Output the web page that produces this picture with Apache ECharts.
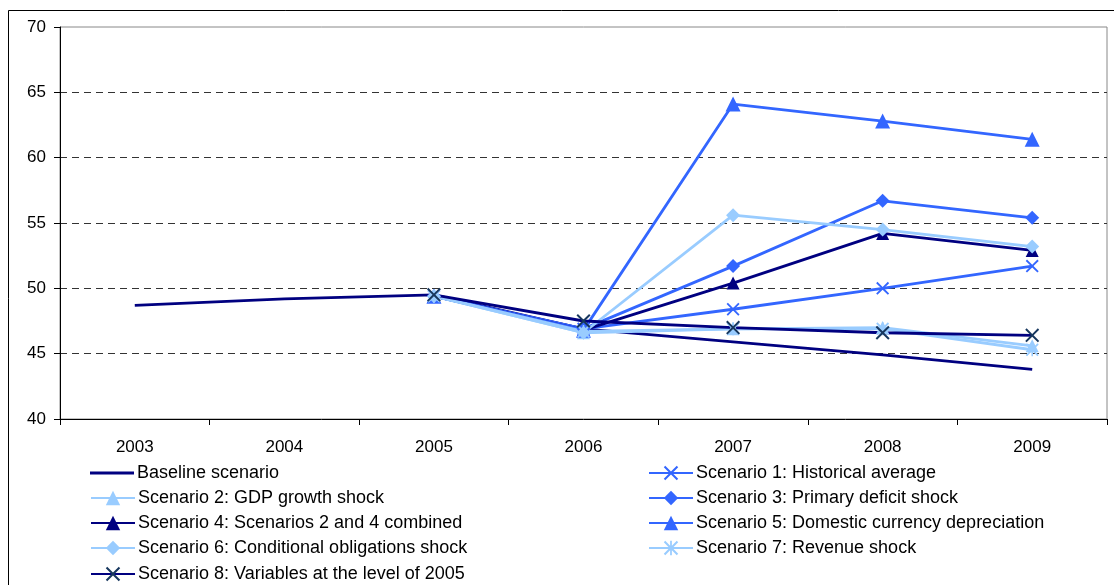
<!DOCTYPE html>
<html>
<head>
<meta charset="utf-8">
<script src="https://cdn.jsdelivr.net/npm/echarts@6/dist/echarts.min.js"></script>
<style>
  html, body { margin: 0; padding: 0; background: #fff; }
  #chart { width: 1114px; height: 585px; }
</style>
</head>
<body>
<div id="chart"></div>
<script>
// Years on the horizontal axis
const years = ['2003', '2004', '2005', '2006', '2007', '2008', '2009'];

// Debt paths (percent), one array per scenario
const baseline   = [48.7, 49.2, 49.5, 46.9, 45.9, 44.9, 43.8];
const scenario1  = [null, null, 49.4, 46.9, 48.4, 50.0, 51.7];
const scenario2  = [null, null, 49.4, 46.6, 46.9, 47.0, 45.6];
const scenario3  = [null, null, 49.4, 46.9, 51.7, 56.7, 55.4];
const scenario4  = [null, null, 49.4, 46.8, 50.4, 54.2, 52.9];
const scenario5  = [null, null, 49.4, 46.8, 64.1, 62.8, 61.4];
const scenario6  = [null, null, 49.4, 46.6, 55.6, 54.5, 53.2];
const scenario7  = [null, null, 49.4, 46.7, 46.9, 46.9, 45.3];
const scenario8  = [null, null, 49.5, 47.5, 47.0, 46.6, 46.4];

const names = [
  'Baseline scenario',
  'Scenario 1: Historical average',
  'Scenario 2: GDP growth shock',
  'Scenario 3: Primary deficit shock',
  'Scenario 4: Scenarios 2 and 4 combined',
  'Scenario 5: Domestic currency depreciation',
  'Scenario 6: Conditional obligations shock',
  'Scenario 7: Revenue shock',
  'Scenario 8: Variables at the level of 2005'
];

const NAVY = '#000080', MID = '#3366FF', LIGHT = '#99CCFF';
const CROSS = 'path://M0,1 L1,0 L5,4 L9,0 L10,1 L6,5 L10,9 L9,10 L5,6 L1,10 L0,9 L4,5 Z';
const STAR = 'path://M0,1 L1,0 L4.4,3.4 L4.4,0 L5.6,0 L5.6,3.4 L9,0 L10,1 L6.6,4.4 L6.6,5.6 L10,9 L9,10 L5.6,6.6 L5.6,10 L4.4,10 L4.4,6.6 L1,10 L0,9 L3.4,5.6 L3.4,4.4 Z';

function line(name, data, color, symbol, size, markColor) {
  return {
    name: name,
    type: 'line',
    data: data,
    symbol: symbol || 'none',
    symbolSize: size || 0,
    showSymbol: !!symbol,
    lineStyle: { color: color, width: 2.8 },
    itemStyle: { color: markColor || color },
    emphasis: { disabled: true },
    z: 2
  };
}

// One legend block per entry, laid out in two columns
const legendRows = [474, 499, 524, 549, 575];
function legendEntry(idx, col, row) {
  const isPlain = idx === 0;
  return {
    orient: 'horizontal',
    left: col === 0 ? 90 : 648,
    top: legendRows[row] - 10,
    itemWidth: 44,
    itemHeight: isPlain ? 3 : 18,
    icon: isPlain ? 'rect' : undefined,
    itemGap: 0,
    padding: 0,
    selectedMode: false,
    textStyle: { color: '#000', fontSize: 18, fontFamily: 'Liberation Sans', padding: [0, 0, 0, -2] },
    data: [names[idx]]
  };
}

const chart = echarts.init(document.getElementById('chart'), null, { renderer: 'canvas' });

chart.setOption({
  animation: false,
  backgroundColor: '#fff',
  textStyle: { fontFamily: 'Liberation Sans, Arial, sans-serif' },
  graphic: [{
    type: 'rect',
    shape: { x: 8.5, y: 10.5, width: 1200, height: 700 },
    style: { fill: 'none', stroke: '#000', lineWidth: 1 },
    silent: true
  }],
  grid: {
    left: 60, right: 7, top: 27, bottom: 166,
    show: true, borderColor: '#888', borderWidth: 1, backgroundColor: 'transparent'
  },
  xAxis: {
    type: 'category',
    data: years,
    boundaryGap: true,
    axisLine: { lineStyle: { color: '#000', width: 1 } },
    axisTick: { show: true, alignWithLabel: false, length: 6, lineStyle: { color: '#000' } },
    axisLabel: { color: '#000', fontSize: 17, margin: 20, fontFamily: 'Liberation Sans' },
    splitLine: { show: false }
  },
  yAxis: {
    type: 'value',
    min: 40, max: 70, interval: 5,
    axisLine: { show: true, lineStyle: { color: '#000', width: 1 } },
    axisTick: { show: true, length: 6, lineStyle: { color: '#000' } },
    axisLabel: { color: '#000', fontSize: 17, margin: 14, fontFamily: 'Liberation Sans' },
    splitLine: {
      show: true, showMinLine: false, showMaxLine: false,
      lineStyle: { color: '#333', type: [7, 5], width: 1 }
    }
  },
  legend: [
    legendEntry(0, 0, 0),
    legendEntry(2, 0, 1),
    legendEntry(4, 0, 2),
    legendEntry(6, 0, 3),
    legendEntry(8, 0, 4),
    legendEntry(1, 1, 0),
    legendEntry(3, 1, 1),
    legendEntry(5, 1, 2),
    legendEntry(7, 1, 3)
  ],
  series: [
    line(names[0], baseline, NAVY),
    line(names[1], scenario1, MID, CROSS, 13),
    line(names[2], scenario2, LIGHT, 'triangle', 13),
    line(names[3], scenario3, MID, 'diamond', 14),
    line(names[4], scenario4, NAVY, 'triangle', 13),
    line(names[5], scenario5, MID, 'triangle', 15),
    line(names[6], scenario6, LIGHT, 'diamond', 14),
    line(names[7], scenario7, LIGHT, STAR, 13),
    line(names[8], scenario8, NAVY, CROSS, 14, '#17375E')
  ]
});
</script>
</body>
</html>
